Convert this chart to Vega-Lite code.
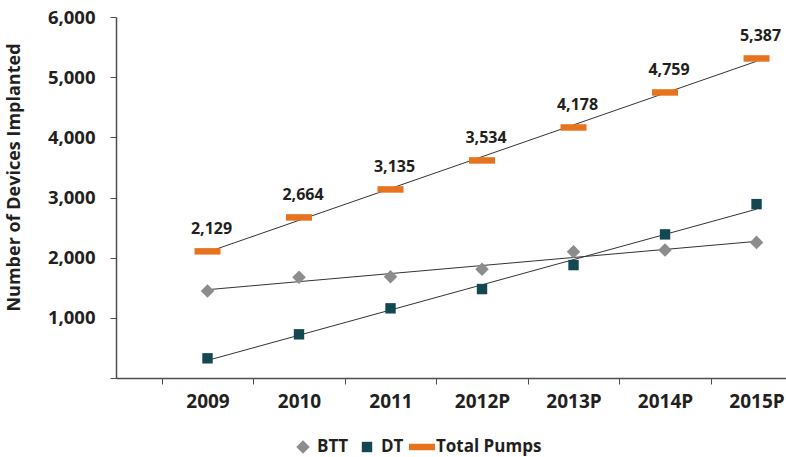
{
  "$schema": "https://vega.github.io/schema/vega-lite/v6.json",
  "autosize": "none",
  "width": 670,
  "height": 361,
  "padding": {"left": 116, "top": 17, "right": 0, "bottom": 79},
  "background": "white",
  "config": {"view": {"stroke": null}, "font": "Open Sans"},
  "data": {
    "values": [
      {"series": "BTT", "year": 2009, "value": 1445, "label": ""},
      {"series": "BTT", "year": 2010, "value": 1673, "label": ""},
      {"series": "BTT", "year": 2011, "value": 1683, "label": ""},
      {"series": "BTT", "year": 2012, "value": 1806, "label": ""},
      {"series": "BTT", "year": 2013, "value": 2098, "label": ""},
      {"series": "BTT", "year": 2014, "value": 2126, "label": ""},
      {"series": "BTT", "year": 2015, "value": 2254, "label": ""},
      {"series": "DT", "year": 2009, "value": 327, "label": ""},
      {"series": "DT", "year": 2010, "value": 726, "label": ""},
      {"series": "DT", "year": 2011, "value": 1158, "label": ""},
      {"series": "DT", "year": 2012, "value": 1478, "label": ""},
      {"series": "DT", "year": 2013, "value": 1877, "label": ""},
      {"series": "DT", "year": 2014, "value": 2387, "label": ""},
      {"series": "DT", "year": 2015, "value": 2890, "label": ""},
      {"series": "Total Pumps", "year": 2009, "value": 2105, "label": "2,129"},
      {"series": "Total Pumps", "year": 2010, "value": 2669, "label": "2,664"},
      {"series": "Total Pumps", "year": 2011, "value": 3134, "label": "3,135"},
      {"series": "Total Pumps", "year": 2012, "value": 3616, "label": "3,534"},
      {"series": "Total Pumps", "year": 2013, "value": 4164, "label": "4,178"},
      {"series": "Total Pumps", "year": 2014, "value": 4746, "label": "4,759"},
      {"series": "Total Pumps", "year": 2015, "value": 5311, "label": "5,387"}
    ]
  },
  "layer": [
    {
      "transform": [{"regression": "value", "on": "year", "groupby": ["series"]}],
      "mark": {"type": "line", "color": "#333333", "strokeWidth": 1},
      "encoding": {
        "x": {
          "field": "year", "type": "quantitative",
          "scale": {"domain": [2008, 2015.322], "nice": false, "zero": false},
          "axis": {
            "values": [2008.5, 2009.5, 2010.5, 2011.5, 2012.5, 2013.5, 2014.5],
            "labelExpr": "format(datum.value + 0.5, 'd') + (datum.value > 2011 ? 'P' : '')",
            "labelOffset": 45.75,
            "title": null, "grid": false,
            "domainColor": "#4d4d4d", "domainWidth": 1.5,
            "tickColor": "#4d4d4d", "tickSize": 6, "tickWidth": 1,
            "labelFontSize": 19, "labelFontWeight": "bold", "labelColor": "#231f20",
            "labelPadding": 8, "labelFlush": false, "labelOverlap": false
          }
        },
        "y": {
          "field": "value", "type": "quantitative",
          "scale": {"domain": [0, 6000], "nice": false},
          "axis": {
            "values": [0, 1000, 2000, 3000, 4000, 5000, 6000],
            "labelExpr": "datum.value == 0 ? '' : format(datum.value, ',')",
            "title": "Number of Devices Implanted",
            "titleFontSize": 18, "titleFontWeight": "bold", "titleColor": "#231f20",
            "titlePadding": 24, "titleY": 160,
            "grid": false,
            "domainColor": "#4d4d4d", "domainWidth": 1.5,
            "tickColor": "#4d4d4d", "tickSize": 6, "tickWidth": 1,
            "labelFontSize": 18.5, "labelFontWeight": "bold", "labelColor": "#231f20",
            "labelPadding": 15
          }
        },
        "detail": {"field": "series"}
      }
    },
    {
      "mark": {"type": "point", "filled": true, "opacity": 1, "strokeWidth": 0, "size": 676},
      "encoding": {
        "x": {"field": "year", "type": "quantitative"},
        "y": {"field": "value", "type": "quantitative"},
        "color": {
          "field": "series", "type": "nominal",
          "scale": {"domain": ["BTT", "DT", "Total Pumps"], "range": ["#8c8c8c", "#134853", "#e8731e"]},
          "legend": {
            "orient": "none", "legendX": 174, "legendY": 417,
            "direction": "horizontal", "title": null,
            "labelFontSize": 17, "labelFontWeight": "bold", "labelColor": "#231f20",
            "columnPadding": 5, "labelOffset": 1, "symbolSize": 676, "symbolStrokeWidth": 0
          }
        },
        "shape": {
          "field": "series", "type": "nominal",
          "scale": {"domain": ["BTT", "DT", "Total Pumps"], "range": ["M-0.52,0L0,-0.52L0.52,0L0,0.52Z", "M-0.4,-0.4H0.4V0.4H-0.4Z", "M-1,-0.25H1V0.25H-1Z"]}
        }
      }
    },
    {
      "transform": [{"filter": "datum.series === 'Total Pumps'"}],
      "mark": {"type": "text", "dy": -22, "dx": 4, "fontSize": 16, "fontWeight": "bold", "color": "#231f20"},
      "encoding": {
        "x": {"field": "year", "type": "quantitative"},
        "y": {"field": "value", "type": "quantitative"},
        "text": {"field": "label"}
      }
    }
  ]
}
